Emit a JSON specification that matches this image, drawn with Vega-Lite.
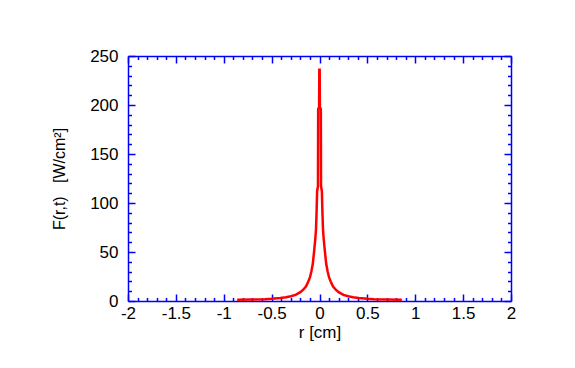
{
  "$schema": "https://vega.github.io/schema/vega-lite/v6.json",
  "width": 383,
  "height": 245,
  "autosize": {"type": "none"},
  "padding": {"left": 128, "top": 56, "right": 64, "bottom": 67},
  "background": "white",
  "config": {
    "view": {"stroke": null},
    "axis": {
      "labelFont": "Liberation Sans",
      "titleFont": "Liberation Sans",
      "labelFontSize": 17,
      "labelColor": "black",
      "titleColor": "black",
      "titleFontWeight": "normal",
      "domainColor": "#0000ff",
      "tickColor": "#0000ff",
      "domainWidth": 1.5,
      "tickWidth": 1.5,
      "grid": false
    }
  },
  "data": {
    "values": [
      {"r": -0.86, "F": 1.3}, {"r": -0.7, "F": 1.5}, {"r": -0.57, "F": 1.9}, {"r": -0.5, "F": 2.3},
      {"r": -0.41, "F": 3.1}, {"r": -0.35, "F": 3.9}, {"r": -0.3, "F": 4.8}, {"r": -0.25, "F": 6.3},
      {"r": -0.2, "F": 9}, {"r": -0.17, "F": 11.5}, {"r": -0.14, "F": 15}, {"r": -0.117, "F": 20},
      {"r": -0.1, "F": 24}, {"r": -0.085, "F": 30}, {"r": -0.07, "F": 38}, {"r": -0.057, "F": 50},
      {"r": -0.045, "F": 62}, {"r": -0.037, "F": 72}, {"r": -0.03, "F": 92}, {"r": -0.025, "F": 112},
      {"r": -0.016, "F": 117}, {"r": -0.014, "F": 196}, {"r": -0.004, "F": 198}, {"r": -0.002, "F": 236},
      {"r": 0, "F": 236},
      {"r": 0.002, "F": 236}, {"r": 0.004, "F": 198}, {"r": 0.014, "F": 196}, {"r": 0.016, "F": 117},
      {"r": 0.025, "F": 112}, {"r": 0.03, "F": 92}, {"r": 0.037, "F": 72}, {"r": 0.045, "F": 62},
      {"r": 0.057, "F": 50}, {"r": 0.07, "F": 38}, {"r": 0.085, "F": 30}, {"r": 0.1, "F": 24},
      {"r": 0.117, "F": 20}, {"r": 0.14, "F": 15}, {"r": 0.17, "F": 11.5}, {"r": 0.2, "F": 9},
      {"r": 0.25, "F": 6.3}, {"r": 0.3, "F": 4.8}, {"r": 0.35, "F": 3.9}, {"r": 0.41, "F": 3.1},
      {"r": 0.5, "F": 2.3}, {"r": 0.57, "F": 1.9}, {"r": 0.7, "F": 1.5}, {"r": 0.86, "F": 1.3}
    ]
  },
  "layer": [
    {
      "mark": {"type": "line", "color": "#ff0000", "strokeWidth": 2.5, "clip": true},
      "encoding": {
        "x": {
          "field": "r", "type": "quantitative",
          "scale": {"domain": [-2, 2], "nice": false, "zero": false},
          "axis": {
            "orient": "bottom",
            "title": "r [cm]",
            "titleFontSize": 17,
            "titlePadding": 0,
            "values": [-2,-1.9,-1.8,-1.7,-1.6,-1.5,-1.4,-1.3,-1.2,-1.1,-1,-0.9,-0.8,-0.7,-0.6,-0.5,-0.4,-0.3,-0.2,-0.1,0,0.1,0.2,0.3,0.4,0.5,0.6,0.7,0.8,0.9,1,1.1,1.2,1.3,1.4,1.5,1.6,1.7,1.8,1.9,2],
            "labelExpr": "abs(datum.value*2 - round(datum.value*2)) < 0.001 ? '' + datum.value : ''",
            "tickSize": {"condition": {"test": "abs(datum.value*2 - round(datum.value*2)) < 0.001", "value": -7}, "value": -3.5},
            "labelPadding": 11,
            "labelFlush": false,
            "labelOverlap": false
          }
        },
        "y": {
          "field": "F", "type": "quantitative",
          "scale": {"domain": [0, 250], "nice": false},
          "axis": {
            "orient": "left",
            "title": "F(r,t)\u00a0\u00a0\u00a0[W/cm²]",
            "titleFontSize": 16,
            "titlePadding": 22,
            "values": [0,10,20,30,40,50,60,70,80,90,100,110,120,130,140,150,160,170,180,190,200,210,220,230,240,250],
            "labelExpr": "datum.value % 50 === 0 ? '' + datum.value : ''",
            "tickSize": {"condition": {"test": "datum.value % 50 === 0", "value": -7}, "value": -3.5},
            "labelPadding": 17,
            "labelFlush": false,
            "labelOverlap": false
          }
        }
      }
    },
    {
      "mark": {"type": "line", "opacity": 0},
      "encoding": {
        "x": {
          "field": "r", "type": "quantitative",
          "axis": {
            "orient": "top",
            "title": null,
            "labels": false,
            "values": [-2,-1.9,-1.8,-1.7,-1.6,-1.5,-1.4,-1.3,-1.2,-1.1,-1,-0.9,-0.8,-0.7,-0.6,-0.5,-0.4,-0.3,-0.2,-0.1,0,0.1,0.2,0.3,0.4,0.5,0.6,0.7,0.8,0.9,1,1.1,1.2,1.3,1.4,1.5,1.6,1.7,1.8,1.9,2],
            "tickSize": {"condition": {"test": "abs(datum.value*2 - round(datum.value*2)) < 0.001", "value": -7}, "value": -3.5}
          }
        },
        "y": {
          "field": "F", "type": "quantitative",
          "axis": {
            "orient": "right",
            "title": null,
            "labels": false,
            "values": [0,10,20,30,40,50,60,70,80,90,100,110,120,130,140,150,160,170,180,190,200,210,220,230,240,250],
            "tickSize": {"condition": {"test": "datum.value % 50 === 0", "value": -7}, "value": -3.5}
          }
        }
      }
    }
  ],
  "resolve": {"axis": {"x": "independent", "y": "independent"}}
}
